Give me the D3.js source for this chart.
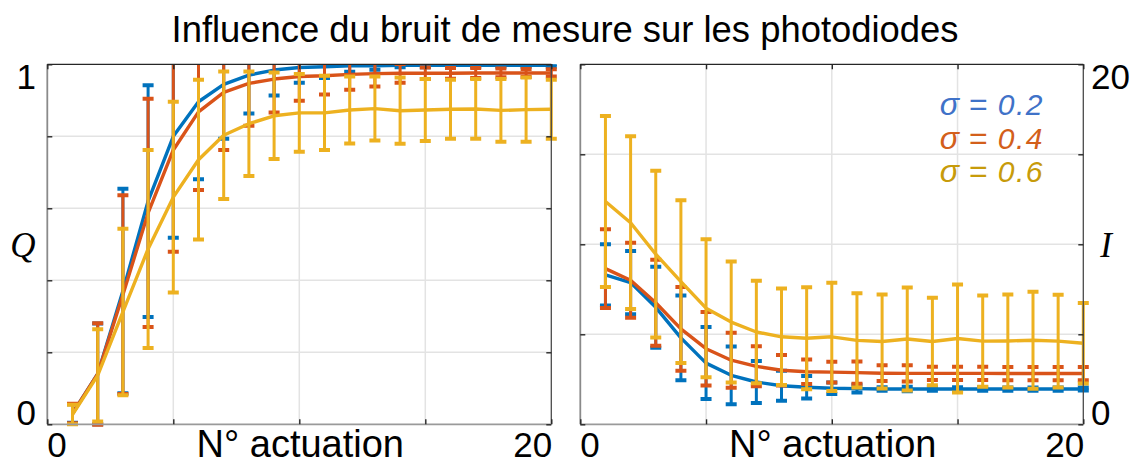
<!DOCTYPE html>
<html><head><meta charset="utf-8">
<script src="https://cdn.jsdelivr.net/npm/d3@7"></script>
<style>
html,body{margin:0;padding:0;background:#fff;}
svg{display:block;}
text{font-family:"Liberation Sans",Arial,sans-serif;}
</style></head>
<body><svg id="c" width="1138" height="464"></svg>
<script>
// ---------- data ----------
const actuations = [1,2,3,4,5,6,7,8,9,10,11,12,13,14,15,16,17,18,19,20];
const sigmaValues = ["0.2","0.4","0.6"];
const xTicks = [0,5,10,15,20];
const qTicks = [0,0.2,0.4,0.6,0.8,1];
const iTicks = [0,5,10,15,20];
const qTickLabels = ["0","1"];
const iTickLabels = ["0","20"];
const xTickLabels = ["0","20"];
const title = "Influence du bruit de mesure sur les photodiodes";
const xLabel = "N° actuation";

// Q (left panel): mean and std per sigma
const qMean02 = [0.03,0.14,0.37,0.62,0.80,0.896,0.944,0.97,0.984,0.991,0.993,0.996,0.996,0.997,0.997,0.997,0.997,0.997,0.997,0.997];
const qStd02  = [0.026,0.14,0.284,0.322,0.282,0.215,0.151,0.107,0.071,0.042,0.031,0.017,0.011,0.005,0.005,0.004,0.004,0.004,0.004,0.004];
const qMean04 = [0.03,0.14,0.36,0.587,0.762,0.868,0.922,0.947,0.959,0.966,0.968,0.972,0.974,0.975,0.975,0.975,0.976,0.976,0.976,0.976];
const qStd04  = [0.027,0.141,0.276,0.317,0.283,0.217,0.16,0.118,0.093,0.067,0.052,0.043,0.036,0.026,0.016,0.015,0.014,0.012,0.011,0.01];
const qMean06 = [0.027,0.136,0.312,0.487,0.631,0.735,0.803,0.835,0.857,0.865,0.865,0.873,0.877,0.871,0.873,0.875,0.876,0.872,0.874,0.875];
const qStd06  = [0.027,0.128,0.231,0.275,0.265,0.222,0.177,0.145,0.12,0.108,0.103,0.093,0.089,0.092,0.086,0.082,0.083,0.087,0.089,0.082];

// I (right panel): mean and std per sigma
const iMean02 = [8.3,7.87,6.5,4.8,3.4,2.72,2.35,2.14,2.06,2.0,1.98,1.96,1.96,1.96,1.96,1.96,1.96,1.96,1.96,1.96];
const iStd02  = [1.7,1.76,2.25,2.35,2.0,1.6,1.17,0.83,0.62,0.32,0.22,0.1,0.13,0.1,0.1,0.1,0.09,0.09,0.09,0.08];
const iMean04 = [8.65,8.0,6.75,5.3,4.2,3.56,3.22,3.0,2.92,2.9,2.87,2.84,2.83,2.83,2.83,2.83,2.82,2.82,2.82,2.82];
const iStd04  = [2.19,2.08,2.39,2.33,2.04,1.53,1.11,0.85,0.68,0.58,0.62,0.44,0.45,0.37,0.37,0.37,0.37,0.37,0.37,0.37];
const iMean06 = [12.38,11.2,9.45,7.93,6.45,5.68,5.13,4.86,4.78,4.86,4.66,4.6,4.74,4.6,4.77,4.62,4.63,4.67,4.62,4.5];
const iStd06  = [4.75,4.8,4.63,4.52,3.83,3.36,2.85,2.68,2.83,3.01,2.62,2.61,2.86,2.43,3.0,2.53,2.58,2.69,2.58,2.24];

// ---------- style ----------
const seriesColors = ["#0072BD","#D95319","#EDB120"];
const legendColors = ["#3F72C8","#D35F1B","#C79B0A"];

const svg = d3.select("#c");

const panels = [
  {id:"L", x:[47.3,551.3], y:[424.3,64.3], ydom:[0,1], yTicks:qTicks,
   means:[qMean02,qMean04,qMean06], stds:[qStd02,qStd04,qStd06]},
  {id:"R", x:[580.3,1083.3], y:[424.3,64.3], ydom:[0,20], yTicks:iTicks,
   means:[iMean02,iMean04,iMean06], stds:[iStd02,iStd04,iStd06]}
];

const LABEL_Y = 457;

panels.forEach(p => {
  const x = d3.scaleLinear().domain([0,20]).range(p.x);
  const y = d3.scaleLinear().domain(p.ydom).range(p.y);
  p.xs = x; p.ys = y;
  const g = svg.append("g");
  const x0 = p.x[0], x1 = p.x[1], yb = p.y[0], yt = p.y[1];

  // grid
  g.append("g").selectAll("line").data(xTicks.slice(1,-1)).join("line")
    .attr("x1", d=>x(d)).attr("x2", d=>x(d)).attr("y1", yt).attr("y2", yb)
    .attr("stroke","#e3e3e3").attr("stroke-width",1.5);
  g.append("g").selectAll("line").data(p.yTicks.slice(1,-1)).join("line")
    .attr("y1", d=>y(d)).attr("y2", d=>y(d)).attr("x1", x0).attr("x2", x1)
    .attr("stroke","#e3e3e3").attr("stroke-width",1.5);

  // clip
  const cid = "clip"+p.id;
  svg.append("clipPath").attr("id",cid).append("rect")
    .attr("x", x0-8).attr("y", yt).attr("width", x1-x0+16).attr("height", yb-yt+12);

  const data = svg.append("g").attr("clip-path","url(#"+cid+")");
  const line = d3.line().x((d,i)=>x(actuations[i])).y(d=>y(d));

  [0,1,2].forEach(s => {
    const m = p.means[s], sd = p.stds[s], col = seriesColors[s];
    const eb = data.append("g");
    const pts = actuations.map((a,i)=>({a, lo:m[i]-sd[i], hi:m[i]+sd[i]}));
    eb.selectAll("line.v").data(pts).join("line").attr("class","v")
      .attr("x1", d=>x(d.a)).attr("x2", d=>x(d.a))
      .attr("y1", d=>y(d.lo)).attr("y2", d=>y(d.hi))
      .attr("stroke", col).attr("stroke-width", 3);
    ["lo","hi"].forEach(k => {
      eb.selectAll("line.c"+k).data(pts).join("line").attr("class","c"+k)
        .attr("x1", d=>x(d.a)-5.5).attr("x2", d=>x(d.a)+5.5)
        .attr("y1", d=>y(d[k])).attr("y2", d=>y(d[k]))
        .attr("stroke", col).attr("stroke-width", 4);
    });
    data.append("path").datum(m).attr("d", line)
      .attr("fill","none").attr("stroke", col).attr("stroke-width", 3.4)
      .attr("stroke-linejoin","round");
  });

  // box
  const box = svg.append("g");
  box.append("line").attr("x1",x0).attr("x2",x1).attr("y1",yt).attr("y2",yt).attr("stroke","#262626").attr("stroke-width",1.3);
  box.append("line").attr("x1",x1).attr("x2",x1).attr("y1",yt).attr("y2",yb).attr("stroke","#4a4a4a").attr("stroke-width",1.3);
  box.append("line").attr("x1",x0).attr("x2",x0).attr("y1",yt).attr("y2",yb).attr("stroke","#8a8a8a").attr("stroke-width",1.8);
  box.append("line").attr("x1",x0).attr("x2",x1).attr("y1",yb).attr("y2",yb).attr("stroke","#9a9a9a").attr("stroke-width",1.8);

  // ticks (inward) via d3 axes
  const tk = (sel) => sel.call(s => s.select(".domain").remove())
                        .call(s => s.selectAll("line").attr("stroke","#262626").attr("stroke-width",1.4));
  svg.append("g").attr("transform",`translate(0,${yb})`)
    .call(d3.axisBottom(x).tickValues(xTicks).tickSize(-5).tickFormat("")).call(tk);
  svg.append("g").attr("transform",`translate(0,${yt})`)
    .call(d3.axisTop(x).tickValues(xTicks).tickSize(-5).tickFormat("")).call(tk);
  svg.append("g").attr("transform",`translate(${x0},0)`)
    .call(d3.axisLeft(y).tickValues(p.yTicks).tickSize(-5).tickFormat("")).call(tk);
  svg.append("g").attr("transform",`translate(${x1},0)`)
    .call(d3.axisRight(y).tickValues(p.yTicks).tickSize(-5).tickFormat("")).call(tk);

  // x tick labels
  svg.append("text").text(xTickLabels[0]).attr("x", x(xTicks[0])).attr("y", LABEL_Y)
    .attr("font-size",35).attr("text-anchor","start");
  svg.append("text").text(xTickLabels[1]).attr("x", x(xTicks[xTicks.length-1])+1).attr("y", LABEL_Y)
    .attr("font-size",35).attr("text-anchor","end");
  svg.append("text").text(xLabel).attr("x", (x0+x1)/2 + 1).attr("y", LABEL_Y)
    .attr("font-size",38).attr("text-anchor","middle");
});

// y tick labels
const pL = panels[0], pR = panels[1];
svg.append("text").text(qTickLabels[1]).attr("x",36).attr("y",pL.ys(1)+25)
  .attr("font-size",35).attr("text-anchor","end");
svg.append("text").text(qTickLabels[0]).attr("x",36).attr("y",pL.ys(0)+1)
  .attr("font-size",35).attr("text-anchor","end");
svg.append("text").text(iTickLabels[1]).attr("x",1091).attr("y",pR.ys(20)+25)
  .attr("font-size",35).attr("text-anchor","start");
svg.append("text").text(iTickLabels[0]).attr("x",1091).attr("y",pR.ys(0)+1)
  .attr("font-size",35).attr("text-anchor","start");

// axis labels (italic serif)
svg.append("text").text("Q").attr("x",23).attr("y",257)
  .attr("font-size",35).attr("font-style","italic").attr("text-anchor","middle")
  .style("font-family","'Liberation Serif','Times New Roman',serif");
svg.append("text").text("I").attr("x",1106).attr("y",257)
  .attr("font-size",35).attr("font-style","italic").attr("text-anchor","middle")
  .style("font-family","'Liberation Serif','Times New Roman',serif");

// title
svg.append("text").text(title).attr("x",565).attr("y",42)
  .attr("font-size",36.4).attr("text-anchor","middle").attr("fill","#000");

// legend (σ = value), one line per sigma
sigmaValues.forEach((v,i) => {
  const t = svg.append("text").attr("x",1044).attr("y",115 + i*33.7)
    .attr("font-size",30).attr("font-style","italic").attr("text-anchor","end")
    .attr("fill", legendColors[i]);
  t.append("tspan").attr("font-size",32).text("σ");
  t.append("tspan").attr("dx",10).attr("font-style","normal").attr("font-size",32).text("=");
  t.append("tspan").attr("dx",10).attr("letter-spacing",1.5).text(v);
});
</script></body></html>
